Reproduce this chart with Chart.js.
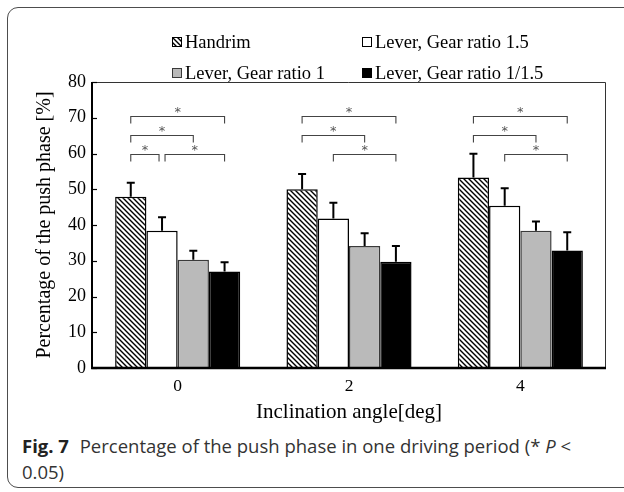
<!DOCTYPE html>
<html>
<head>
<meta charset="utf-8">
<script src="https://cdn.jsdelivr.net/npm/chart.js@4.4.0/dist/chart.umd.min.js"></script>
<style>
  html, body { margin: 0; padding: 0; background: #fff; }
  #frame {
    position: absolute; left: 7px; top: 7px; width: 660px; height: 481px;
    border: 1px solid #4d4d4d; border-radius: 11px; box-sizing: border-box;
  }
  #wrap { position: absolute; left: 0; top: 0; width: 624px; height: 425px; }
  #caption {
    position: absolute; left: 22px; top: 433px; width: 600px;
    font-family: "Open Sans", "Noto Sans", sans-serif; font-size: 18.5px;
    line-height: 26px; color: #333; white-space: nowrap;
  }
  #caption b { color: #222; margin-right: 6px; }
</style>
</head>
<body>
<div id="frame"></div>
<div id="wrap"><canvas id="chart"></canvas></div>
<div id="caption"><b>Fig. 7</b> Percentage of the push phase in one driving period (* <i>P</i> &lt;<br>0.05)</div>
<script>
// Inclination angles (deg)
const angles = ['0', '2', '4'];

// Series: mean percentage of the push phase and its SD
const seriesNames = ['Handrim', 'Lever, Gear ratio 1.5', 'Lever, Gear ratio 1', 'Lever, Gear ratio 1/1.5'];
const handrim   = [47.9, 50.0, 53.3];
const lever15   = [38.4, 41.8, 45.4];
const lever1    = [30.3, 34.1, 38.4];
const lever115  = [27.0, 29.7, 32.9];
const handrimSd  = [3.9, 4.3, 6.6];
const lever15Sd  = [3.8, 4.4, 4.9];
const lever1Sd   = [2.5, 3.6, 2.6];
const lever115Sd = [2.6, 4.4, 5.1];

// y-axis ticks
const yTicks = [0, 10, 20, 30, 40, 50, 60, 70, 80];

// Significant pairs (* P < 0.05): angle index, series a, series b, bracket level
const sigAngle = [0, 0, 0, 0, 1, 1, 1, 2, 2, 2];
const sigA     = [0, 0, 0, 1, 0, 0, 1, 0, 0, 1];
const sigB     = [3, 2, 1, 3, 3, 2, 3, 3, 2, 3];
const sigLevel = [70.6, 65.2, 60, 60, 70.5, 65.3, 60, 70.5, 65.3, 60];

const serif = '"Liberation Serif", "Times New Roman", serif';

// diagonal hatch used for the handrim bars
function hatch() {
  const s = 5;
  const c = document.createElement('canvas');
  c.width = s; c.height = s;
  const g = c.getContext('2d');
  g.fillStyle = '#fff';
  g.fillRect(0, 0, s, s);
  g.strokeStyle = '#000';
  g.lineWidth = 1.4;
  g.beginPath();
  g.moveTo(-1, -1); g.lineTo(s + 1, s + 1);
  g.moveTo(-1, s - 1); g.lineTo(1, s + 1);
  g.moveTo(s - 1, -1); g.lineTo(s + 1, 1);
  g.stroke();
  return g.createPattern(c, 'repeat');
}
const hatchFill = hatch();

const fills   = [hatchFill, '#ffffff', '#bababa', '#000000'];
const borders = ['#000000', '#000000', '#3a3a3a', '#000000'];
const values  = [handrim, lever15, lever1, lever115];
const sds     = [handrimSd, lever15Sd, lever1Sd, lever115Sd];

// Upward error bars
const errorBars = {
  id: 'errorBars',
  afterDatasetsDraw(chart) {
    const ctx = chart.ctx, y = chart.scales.y;
    ctx.save();
    ctx.strokeStyle = '#000';
    ctx.lineWidth = 2;
    chart.data.datasets.forEach((ds, i) => {
      chart.getDatasetMeta(i).data.forEach((bar, j) => {
        const top = y.getPixelForValue(ds.data[j] + ds.sd[j]);
        ctx.beginPath();
        ctx.moveTo(bar.x, bar.y);
        ctx.lineTo(bar.x, top);
        ctx.moveTo(bar.x - 4, top);
        ctx.lineTo(bar.x + 4, top);
        ctx.stroke();
      });
    });
    ctx.restore();
  }
};

// Significance brackets with asterisks
const brackets = {
  id: 'brackets',
  afterDatasetsDraw(chart) {
    const ctx = chart.ctx, y = chart.scales.y;
    ctx.save();
    ctx.strokeStyle = '#444';
    ctx.fillStyle = '#555';
    ctx.lineWidth = 1.1;
    ctx.font = '13px "DejaVu Sans", sans-serif';
    ctx.textAlign = 'center';
    ctx.textBaseline = 'middle';
    sigAngle.forEach((c, k) => {
      let x1 = chart.getDatasetMeta(sigA[k]).data[c].x;
      let x2 = chart.getDatasetMeta(sigB[k]).data[c].x;
      // neighbouring brackets on the same level leave a small gap
      sigAngle.forEach((c2, m) => {
        if (m === k || c2 !== c || sigLevel[m] !== sigLevel[k]) return;
        if (sigA[m] === sigB[k]) x2 -= 3;
        if (sigB[m] === sigA[k]) x1 += 3;
      });
      const yy = Math.round(y.getPixelForValue(sigLevel[k])) + 0.5;
      ctx.beginPath();
      ctx.moveTo(x1, yy + 7);
      ctx.lineTo(x1, yy);
      ctx.lineTo(x2, yy);
      ctx.lineTo(x2, yy + 7);
      ctx.stroke();
      ctx.fillText('*', (x1 + x2) / 2, yy - 4);
    });
    ctx.restore();
  }
};

// Axis lines, top/right frame, inner tick marks and the legend grid
const decor = {
  id: 'decor',
  afterDraw(chart) {
    const ctx = chart.ctx, a = chart.chartArea, y = chart.scales.y;
    ctx.save();
    ctx.strokeStyle = '#333';
    ctx.lineWidth = 1;
    ctx.beginPath();
    ctx.moveTo(a.left, a.top + 0.5);
    ctx.lineTo(a.right - 0.5, a.top + 0.5);
    ctx.lineTo(a.right - 0.5, a.bottom);
    ctx.stroke();

    ctx.strokeStyle = '#000';
    ctx.lineWidth = 2;
    ctx.beginPath();
    ctx.moveTo(a.left, a.top);
    ctx.lineTo(a.left, a.bottom);
    ctx.stroke();
    ctx.lineWidth = 2.5;
    ctx.beginPath();
    ctx.moveTo(a.left - 1, a.bottom);
    ctx.lineTo(a.right, a.bottom);
    ctx.stroke();

    ctx.lineWidth = 1.2;
    yTicks.forEach(v => {
      const p = Math.round(y.getPixelForValue(v)) + 0.5;
      ctx.beginPath();
      ctx.moveTo(a.left, p);
      ctx.lineTo(a.left + 5, p);
      ctx.stroke();
    });

    const cols = [172, 362], rows = [42, 73];
    ctx.font = '18.5px ' + serif;
    ctx.textBaseline = 'middle';
    ctx.textAlign = 'left';
    chart.data.datasets.forEach((ds, i) => {
      const x = cols[i % 2], yc = rows[Math.floor(i / 2)];
      ctx.fillStyle = ds.backgroundColor;
      ctx.fillRect(x, yc - 5, 10, 10);
      ctx.strokeStyle = i === 2 ? '#3a3a3a' : '#000';
      ctx.lineWidth = 1;
      ctx.strokeRect(x + 0.5, yc - 4.5, 9, 9);
      ctx.fillStyle = '#000';
      ctx.fillText(ds.label, x + 13, yc + 1);
    });
    ctx.restore();
  }
};

new Chart(document.getElementById('chart'), {
  type: 'bar',
  data: {
    labels: angles,
    datasets: seriesNames.map((name, i) => ({
      label: name,
      data: values[i],
      sd: sds[i],
      backgroundColor: fills[i],
      borderColor: borders[i],
      borderWidth: 1.5,
      borderSkipped: 'bottom',
      categoryPercentage: 0.73,
      barPercentage: 1.0
    }))
  },
  options: {
    responsive: true,
    maintainAspectRatio: false,
    animation: false,
    layout: { padding: { left: 0, right: 18, top: 82, bottom: 0 } },
    plugins: { legend: { display: false }, tooltip: { enabled: false } },
    scales: {
      x: {
        grid: { display: false, drawTicks: false },
        border: { display: false },
        ticks: { color: '#000', font: { family: serif, size: 17.5 }, padding: 8 },
        title: { display: true, text: 'Inclination angle[deg]', color: '#000',
                 font: { family: serif, size: 21 }, padding: { top: 3, bottom: 0 } },
        afterFit(s) { s.height = 57; }
      },
      y: {
        min: 0, max: 80,
        afterBuildTicks(s) { s.ticks = yTicks.map(v => ({ value: v })); },
        grid: { display: false, drawTicks: false },
        border: { display: false },
        ticks: { color: '#000', font: { family: serif, size: 18 }, padding: 6 },
        title: { display: true, text: 'Percentage of the push phase [%]', color: '#000',
                 font: { family: serif, size: 20 }, padding: { top: 33, bottom: 0 } },
        afterFit(s) { s.width = 92; }
      }
    }
  },
  plugins: [errorBars, brackets, decor]
});
</script>
</body>
</html>
